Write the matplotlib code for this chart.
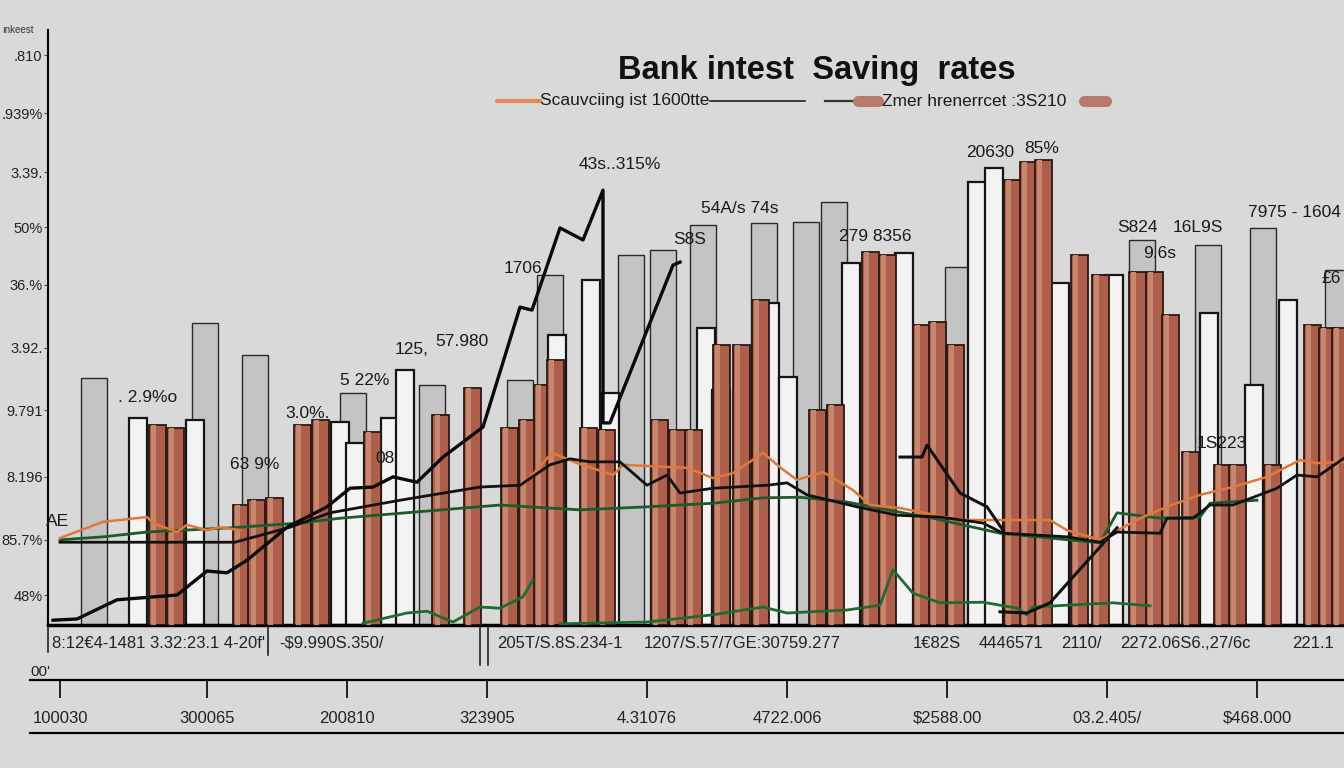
"""Bank savings-rate chart: layered bars with several rate lines."""

import matplotlib
matplotlib.use("Agg")
import matplotlib.pyplot as plt
from matplotlib.lines import Line2D
import numpy as np

W, H = 1344, 768
BG = "#d9d9d9"

plt.rcParams["font.family"] = ["Liberation Sans", "DejaVu Sans"]

# ── data ────────────────────────────────────────────────────────────────────

gray_x = [4.6, 15.7, 20.7, 30.5, 38.4, 47.2, 50.2, 58.3, 61.5, 65.5, 71.6, 75.8,
          78.6, 91.0, 109.4, 116.0, 121.5, 129.0]
gray_h = [41.2, 50.3, 45.0, 38.7, 40.0, 40.8, 58.3, 61.7, 62.5, 66.7, 67.0, 67.2,
          70.5, 59.7, 64.2, 63.3, 66.2, 59.2]

white_x = [9.0, 14.7, 29.2, 30.7, 34.2, 35.7, 50.9, 54.3, 56.2, 65.8, 67.3, 72.2,
           74.0, 80.3, 85.6, 92.9, 94.6, 101.2, 106.6, 115.7, 116.1, 120.6, 124.0]
white_h = [34.5, 34.2, 33.8, 30.3, 34.5, 42.5, 48.3, 57.5, 38.7, 49.5, 39.2, 53.7,
           41.3, 60.3, 62.0, 73.8, 76.2, 57.0, 58.3, 26.7, 52.0, 40.0, 54.2]

brown_x = [10.9, 12.7, 19.3, 20.9, 22.6, 25.4, 27.2, 32.4, 39.3, 42.4, 46.1, 47.9,
           49.4, 50.7, 54.0, 55.8, 61.1, 62.9, 64.6, 67.3, 69.3, 71.2, 76.9, 78.7,
           82.2, 83.9, 87.3, 88.9, 90.7, 96.4, 98.0, 99.5, 103.1, 105.2, 108.9,
           110.6, 112.2, 114.2, 117.4, 118.9, 122.4, 126.4, 127.9, 129.2]
brown_h = [33.3, 32.8, 20.0, 20.8, 21.2, 33.3, 34.2, 32.2, 35.0, 39.5, 32.8, 34.2,
           40.0, 44.2, 32.8, 32.5, 34.2, 32.5, 32.5, 46.7, 46.7, 54.2, 35.8, 36.7,
           62.2, 61.7, 50.0, 50.5, 46.7, 74.2, 77.2, 77.5, 61.7, 58.3, 58.8,
           58.8, 51.7, 28.8, 26.7, 26.7, 26.7, 50.0, 49.5, 49.5]

black1_x = [0.5, 2.9, 6.9, 12.9, 15.9, 17.9, 19.9, 23.9, 27.9, 30.2, 32.5, 34.5,
            36.9, 39.5, 43.5, 47.2, 48.4, 51.2, 53.5, 55.5, 55.5, 56.2, 62.5, 63.2]
black1_y = [0.8, 1.0, 4.2, 5.0, 9.0, 8.7, 10.8, 16.3, 19.7, 22.8, 23.0, 24.7,
            23.8, 28.0, 33.0, 53.0, 52.5, 66.2, 64.2, 72.5, 33.7, 33.7, 60.0, 60.5]

black2_x = [1.2, 18.7, 24.2, 28.2, 35.2, 43.2, 47.2, 50.2, 52.2, 54.2, 57.2, 59.9,
            61.9, 63.2, 66.5, 71.9, 73.9, 75.9, 80.9, 84.9, 89.2, 93.5, 95.5,
            101.9, 105.2, 106.9, 111.2, 111.9, 114.5, 116.2, 118.5, 122.9, 124.9,
            126.9, 129.6]
black2_y = [13.8, 13.8, 16.3, 18.7, 20.8, 23.0, 23.3, 26.7, 27.7, 27.2, 27.2, 23.3,
            25.0, 22.0, 22.8, 23.3, 23.7, 21.7, 19.7, 18.3, 18.0, 17.0, 15.3,
            14.7, 13.8, 15.5, 15.3, 17.8, 17.8, 20.0, 20.0, 22.8, 25.0,
            24.7, 27.8]

black3_x = [85.2, 87.4, 87.9, 91.2, 93.9, 95.5]
black3_y = [28.0, 28.0, 30.0, 22.0, 19.7, 15.8]

black4_x = [95.2, 97.9, 100.2, 102.5, 105.2, 106.9]
black4_y = [2.2, 2.0, 3.7, 8.0, 13.0, 16.2]

green1_x = [1.2, 5.5, 9.9, 18.2, 25.2, 29.2, 45.2, 53.2, 59.9, 66.5, 71.5, 75.2,
            79.9, 85.2, 88.5, 95.2, 105.2, 106.9, 111.2, 115.2, 116.2, 120.9]
green1_y = [14.2, 14.7, 15.5, 16.2, 17.0, 17.8, 20.0, 19.2, 19.7, 20.3, 21.2, 21.3,
            20.5, 18.8, 17.8, 15.3, 13.7, 18.7, 17.8, 18.0, 20.3, 20.8]

green2_x = [31.5, 35.9, 37.9, 40.5, 43.2, 45.2, 47.5, 48.5]
green2_y = [0.3, 2.0, 2.3, 0.5, 3.0, 2.8, 4.7, 7.5]

green3_x = [51.2, 59.9, 66.5, 71.5, 73.9, 79.9, 83.2, 84.5, 86.5, 89.2, 93.5, 96.9,
            97.9, 98.5, 106.5, 110.2]
green3_y = [0.2, 0.5, 1.7, 3.0, 2.0, 2.5, 3.3, 9.2, 5.3, 3.7, 3.8, 2.8,
            1.7, 3.0, 3.7, 3.2]

orange_x = [1.2, 5.5, 9.9, 10.5, 12.9, 13.9, 15.9, 17.2, 19.2, np.nan,
            47.5, 50.4, 52.9, 56.5, 57.5, 63.9, 66.5, 68.5, 71.5, 73.2, 74.9, 77.5,
            80.5, 82.2, 85.2, 91.2, 100.2, 101.9, 105.2, 109.2, 111.9, 115.2,
            118.5, 121.9, 125.2, 126.9, 129.6]
orange_y = [14.5, 17.2, 18.0, 17.0, 15.5, 16.7, 15.8, 16.3, 15.8, np.nan,
            23.3, 28.7, 27.0, 25.0, 26.7, 26.2, 24.5, 25.3, 28.7, 26.3, 24.2, 25.5,
            22.5, 20.0, 19.5, 17.5, 17.5, 15.8, 14.2, 17.8, 19.7, 21.7,
            23.0, 24.7, 27.5, 27.0, 27.2]

ytick_vals = [5.0, 14.2, 24.7, 35.8, 46.2, 56.7, 66.3, 75.5, 85.3, 95.0]
ytick_labels = ["48%", "85.7%", "8.196", "9.791", "3.92.", "36.%", "50%",
                "3.39.", ".939%", ".810"]

notes_x = [1.0, 10.0, 26.0, 20.7, 31.7, 36.4, 41.4, 33.7, 47.5, 57.2, 64.2, 69.2,
           82.7, 94.2, 99.4, 108.9, 115.0, 111.2, 124.6, 117.4, 128.3]
notes_y = [17.2, 38.0, 35.3, 26.7, 40.7, 46.0, 47.2, 27.8, 59.5, 76.7, 64.2, 69.5,
           64.7, 78.7, 79.5, 66.2, 66.2, 62.0, 68.8, 30.3, 57.8]
notes_txt = ["AE", ". 2.9%o", "3.0%.", "63 9%", "5 22%", "125,", "57.980", "08",
             "1706", "43s..315%", "S8S", "54A/s 74s", "279 8356", "20630", "85%",
             "S824", "16L9S", "9.6s", "7975 - 1604", "1S223", "£6"]

row_text = ["8:12€4-1481 3.32:23.1 4-20f'", "-$9.990S.350/", "205T/S.8S.234-1",
            "1207/S.57/7GE:30759.277", "1€82S", "4446571", "2110/",
            "2272.06S6.,27/6c", "221.1"]
row_left = [52, 279, 497, 644, 913, 979, 1061, 1120, 1292]

low_ticks = [1.2, 15.9, 29.9, 43.9, 59.9, 73.9, 89.9, 105.9, 120.9]
low_labels = ["100030", "300065", "200810", "323905", "4.31076", "4722.006",
              "$2588.00", "03.2.405/", "$468.000"]

# ── figure ──────────────────────────────────────────────────────────────────

fig = plt.figure(figsize=(W / 100, H / 100), dpi=100)
fig.patch.set_facecolor(BG)

ax = fig.add_axes([48 / W, 1 - 625 / H, 1 - 48 / W, 595 / H])
ax.set_facecolor(BG)
ax.set_xlim(0, 129.6)
ax.set_ylim(0, 99.2)

ax.bar(gray_x, gray_h, width=2.6, color="#c4c4c4", edgecolor="#2a2a2a",
       linewidth=1.0, zorder=1)
ax.bar(white_x, white_h, width=1.8, color="#f3f3f3", edgecolor="#151515",
       linewidth=1.6, zorder=2)
ax.bar(brown_x, brown_h, width=1.7, color="#ae5f4b", edgecolor="#2a1812",
       linewidth=1.3, zorder=3)
# lighter stripe on each brown bar
ax.bar(np.array(brown_x) - 0.35, brown_h, width=0.45, color="#c9866f",
       linewidth=0, zorder=3.2)

ax.plot(green1_x, green1_y, color="#1d5a2c", lw=2.0, zorder=5)
ax.plot(green2_x, green2_y, color="#1f6a33", lw=2.0, zorder=5)
ax.plot(green3_x, green3_y, color="#1f6a33", lw=2.0, zorder=5)
ax.plot(orange_x, orange_y, color="#e0783a", lw=1.8, zorder=5)
ax.plot(black2_x, black2_y, color="#111111", lw=2.0, zorder=6)
ax.plot(black3_x, black3_y, color="#111111", lw=2.2, zorder=6)
ax.plot(black4_x, black4_y, color="#111111", lw=2.2, zorder=6)
ax.plot(black1_x, black1_y, color="#0a0a0a", lw=2.4, zorder=6)

for x, y, t in zip(notes_x, notes_y, notes_txt):
    ax.text(x, y, t, fontsize=12.5, ha="center", va="center", color="#1a1a1a",
            zorder=7)

ax.set_xticks([])
ax.set_yticks(ytick_vals)
ax.set_yticklabels(ytick_labels, fontsize=10.5, color="#222222")
ax.tick_params(axis="y", length=3, pad=1, color="#444444")
for side in ("top", "right"):
    ax.spines[side].set_visible(False)
ax.spines["left"].set_linewidth(1.5)
ax.spines["bottom"].set_linewidth(2.5)

fig.text(2 / W, 1 - 30 / H, "ınkeest", fontsize=7, color="#333333", va="center")

# garbled tick row under the plot
for t, px in zip(row_text, row_left):
    fig.text(px / W, 1 - 643 / H, t, fontsize=12, color="#222222", va="center")
for px, y1 in [(48, 652), (268, 655), (480, 665), (488, 665)]:
    fig.add_artist(Line2D([px / W, px / W], [1 - 628 / H, 1 - y1 / H],
                          color="#222222", lw=1.2))

# lower scale
ax2 = fig.add_axes([30 / W, 1 - 733 / H, 1 - 30 / W, 53 / H])
ax2.set_facecolor("none")
ax2.set_xlim(-1.8, 129.6)
ax2.set_ylim(0, 1)
ax2.set_yticks([])
ax2.set_xticks(low_ticks)
ax2.tick_params(axis="x", top=True, bottom=False, direction="in", length=13,
                width=1.4, labelbottom=False, labeltop=False, color="#222222")
for side in ("left", "right"):
    ax2.spines[side].set_visible(False)
ax2.spines["top"].set_linewidth(1.6)
ax2.spines["bottom"].set_linewidth(1.6)
for x, t in zip(low_ticks, low_labels):
    ax2.text(x, 0.28, t, fontsize=12, ha="center", va="center", color="#222222")
fig.text(30 / W, 1 - 672 / H, "00'", fontsize=11, color="#222222", va="center")

# title and legend
fig.text(817 / W, 1 - 70 / H, "Bank intest  Saving  rates", fontsize=23.5,
         fontweight="bold", ha="center", va="center", color="#111111")

fig.add_artist(Line2D([497 / W, 540 / W], [1 - 101 / H] * 2, color="#e08a55",
                      lw=3, solid_capstyle="round"))
fig.text(540 / W, 1 - 101 / H, "Scauvciing ist 1600tte", fontsize=12.5,
         va="center", color="#1a1a1a")
fig.add_artist(Line2D([710 / W, 805 / W], [1 - 101 / H] * 2, color="#222222", lw=1.2))
fig.add_artist(Line2D([825 / W, 855 / W], [1 - 101 / H] * 2, color="#333333", lw=1.6))
fig.add_artist(Line2D([858 / W, 878 / W], [1 - 101 / H] * 2, color="#b87a6c",
                      lw=8, solid_capstyle="round"))
fig.text(882 / W, 1 - 101 / H, "Zmer hrenerrcet :3S210", fontsize=12.5,
         va="center", color="#1a1a1a")
fig.add_artist(Line2D([1084 / W, 1106 / W], [1 - 101 / H] * 2, color="#b87a6c",
                      lw=8, solid_capstyle="round"))

fig.savefig("out.png", dpi=100, facecolor=fig.get_facecolor())
plt.close(fig)
